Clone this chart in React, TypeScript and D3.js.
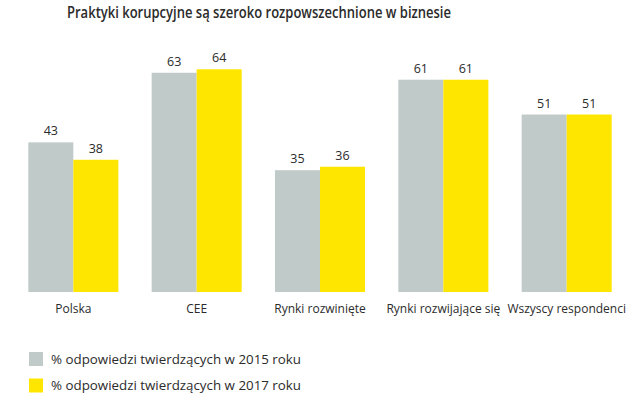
import * as d3 from 'd3'

const title = 'Praktyki korupcyjne są szeroko rozpowszechnione w biznesie'
const categories = [
  'Polska',
  'CEE',
  'Rynki rozwinięte',
  'Rynki rozwijające się',
  'Wszyscy respondenci',
]
const seriesNames = [
  '% odpowiedzi twierdzących w 2015 roku',
  '% odpowiedzi twierdzących w 2017 roku',
]
const values2015 = [43, 63, 35, 61, 51]
const values2017 = [38, 64, 36, 61, 51]

const colors = ['#c0cbc9', '#ffe600']
const textColor = '#2b2b2b'
const font = '"Open Sans", "DejaVu Sans", sans-serif'

export default function App() {
  const width = 640
  const height = 394
  const baseline = 292

  const x = d3
    .scaleBand<string>()
    .domain(categories)
    .range([28.3, 611.7])
    .paddingInner(0.27)
    .paddingOuter(0)
  const xs = d3
    .scaleBand<string>()
    .domain(['2015', '2017'])
    .range([0, x.bandwidth()])
  const y = d3.scaleLinear([0, 100], [baseline, baseline - 348])

  const series = [values2015, values2017]
  const keys = ['2015', '2017']

  return (
    <svg
      width={width}
      height={height}
      style={{ position: 'absolute', left: 0, top: 0 }}
      fontFamily={font}
    >
      <rect width={width} height={height} fill="#fff" />
      <text
        x={67}
        y={18}
        fontSize={17}
        fontWeight={600}
        fill={textColor}
        textLength={384}
        lengthAdjust="spacingAndGlyphs"
      >
        {title}
      </text>
      {categories.map((c, i) => (
        <g key={c} transform={`translate(${x(c)},0)`}>
          {series.map((s, j) => (
            <g key={j}>
              <rect
                x={xs(keys[j])}
                y={y(s[i])}
                width={xs.bandwidth()}
                height={baseline - y(s[i])}
                fill={colors[j]}
              />
              <text
                x={(xs(keys[j]) ?? 0) + xs.bandwidth() / 2}
                y={y(s[i]) - 7}
                textAnchor="middle"
                fontSize={12.5}
                fill={textColor}
              >
                {s[i]}
              </text>
            </g>
          ))}
          <text
            x={x.bandwidth() / 2}
            y={313}
            textAnchor="middle"
            fontSize={12}
            fill={textColor}
          >
            {c}
          </text>
        </g>
      ))}
      {seriesNames.map((n, j) => (
        <g key={n} transform={`translate(29,${352 + j * 26.5})`}>
          <rect width={14} height={14} fill={colors[j]} />
          <text
            x={22}
            y={11.5}
            fontSize={13}
            fill={textColor}
            textLength={250}
            lengthAdjust="spacingAndGlyphs"
          >
            {n}
          </text>
        </g>
      ))}
    </svg>
  )
}
